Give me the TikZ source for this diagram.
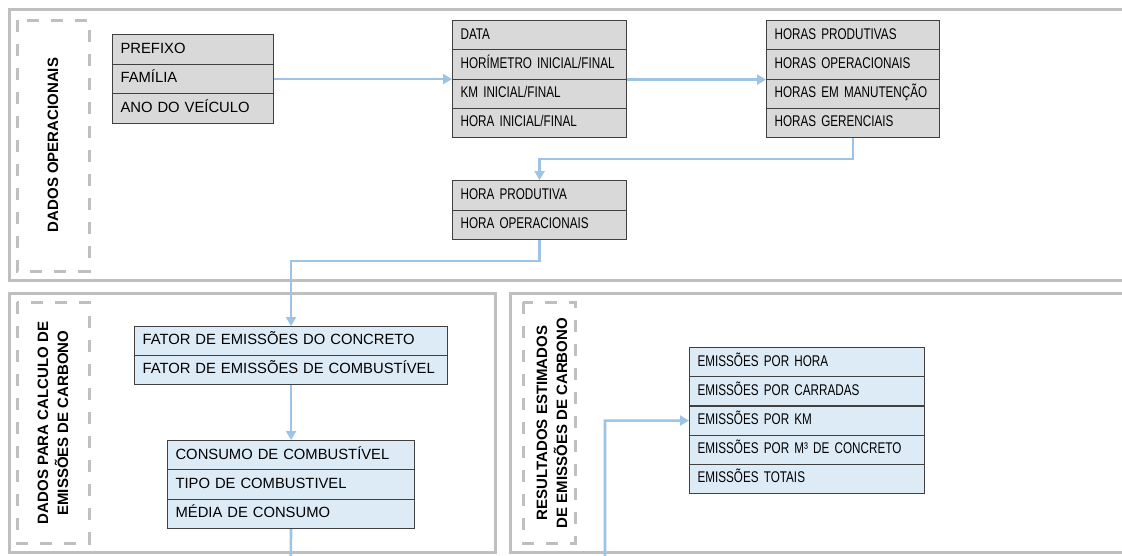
\documentclass[tikz,border=0pt]{standalone}
\usepackage{fontspec}
\setmainfont{Liberation Sans}
\newfontfamily\condfont[FakeStretch=0.755]{Liberation Sans}
\usetikzlibrary{arrows.meta}
\definecolor{cellgray}{HTML}{D9D9D9}
\definecolor{cellblue}{HTML}{DDEBF7}
\definecolor{cellline}{HTML}{404040}
\definecolor{panelgray}{HTML}{BFBFBF}
\definecolor{connblue}{HTML}{9DC3E6}
\tikzset{
  cell/.style={draw=cellline, line width=1.1pt, anchor=north west, inner xsep=8pt, inner ysep=0pt,
    text width=#1, align=left, text height=10.8pt, text depth=3pt},
  grayc/.style={cell=#1, fill=cellgray},
  bluec/.style={cell=#1, fill=cellblue},
  widef/.style={font=\fontsize{14.8}{18}\selectfont},
  narrowf/.style={font=\condfont\fontsize{15.5}{18}\selectfont},
  panel/.style={draw=panelgray, line width=3pt},
  dashbox/.style={draw=panelgray, line width=3pt, dash pattern=on 12pt off 12pt},
  conn/.style={draw=connblue, line width=2.6pt, -{Triangle[length=9pt,width=10pt]}},
  vlabel/.style={rotate=90, align=center, font=\bfseries\fontsize{15}{20}\selectfont}
}
\begin{document}
\begin{tikzpicture}[x=1pt,y=-1pt]
\useasboundingbox (0,0) rectangle (1122,555);
\clip (0,0) rectangle (1122,555);
\fill[white] (0,0) rectangle (1122,555);

% panels
\draw[panel] (9,9) rectangle (1135,280);
\draw[panel] (9,293) rectangle (495,552);
\draw[panel] (510,293) rectangle (1135,552);

% dashed label boxes
\draw[dashbox] (17,20) rectangle (89,271);
\draw[dashbox] (17,302) rectangle (89,543);
\draw[dashbox] (523,302) rectangle (575,543);

\node[vlabel] (L1) at (53,145) {DADOS OPERACIONAIS};
\node[vlabel] (L2) at (53,423) {DADOS PARA CALCULO DE\\EMISSÕES DE CARBONO};
\node[vlabel] (L3) at (552,423) {RESULTADOS ESTIMADOS\\DE EMISSÕES DE CARBONO};

% box A
\node[grayc=145pt, widef, minimum height=29.67pt] (A1) at (112,34) {PREFIXO};
\node[grayc=145pt, widef, minimum height=29.67pt] (A2) at (112,63.67) {FAMÍLIA};
\node[grayc=145pt, widef, minimum height=29.67pt] (A3) at (112,93.33) {ANO DO VEÍCULO};

% box B
\node[grayc=158pt, narrowf, minimum height=29.25pt] (B1) at (452,20) {DATA};
\node[grayc=158pt, narrowf, minimum height=29.25pt] (B2) at (452,49.25) {HORÍMETRO INICIAL/FINAL};
\node[grayc=158pt, narrowf, minimum height=29.25pt] (B3) at (452,78.5) {KM INICIAL/FINAL};
\node[grayc=158pt, narrowf, minimum height=29.25pt] (B4) at (452,107.75) {HORA INICIAL/FINAL};

% box C
\node[grayc=157pt, narrowf, minimum height=29.25pt] (C1) at (766,20) {HORAS PRODUTIVAS};
\node[grayc=157pt, narrowf, minimum height=29.25pt] (C2) at (766,49.25) {HORAS OPERACIONAIS};
\node[grayc=157pt, narrowf, minimum height=29.25pt] (C3) at (766,78.5) {HORAS EM MANUTENÇÃO};
\node[grayc=157pt, narrowf, minimum height=29.25pt] (C4) at (766,107.75) {HORAS GERENCIAIS};

% box D
\node[grayc=158pt, narrowf, minimum height=29.5pt] (D1) at (452,180) {HORA PRODUTIVA};
\node[grayc=158pt, narrowf, minimum height=29.5pt] (D2) at (452,209.5) {HORA OPERACIONAIS};

% box E
\node[bluec=297pt, widef, minimum height=29pt] (E1) at (134,326) {FATOR DE EMISSÕES DO CONCRETO};
\node[bluec=297pt, widef, minimum height=29pt] (E2) at (134,355) {FATOR DE EMISSÕES DE COMBUSTÍVEL};

% box F
\node[bluec=231pt, widef, minimum height=29.33pt] (F1) at (167,440) {CONSUMO DE COMBUSTÍVEL};
\node[bluec=231pt, widef, minimum height=29.33pt] (F2) at (167,469.33) {TIPO DE COMBUSTIVEL};
\node[bluec=231pt, widef, minimum height=29.33pt] (F3) at (167,498.67) {MÉDIA DE CONSUMO};

% box G
\node[bluec=219pt, narrowf, minimum height=29.2pt] (G1) at (689,347) {EMISSÕES POR HORA};
\node[bluec=219pt, narrowf, minimum height=29.2pt] (G2) at (689,376.2) {EMISSÕES POR CARRADAS};
\node[bluec=219pt, narrowf, minimum height=29.2pt] (G3) at (689,405.4) {EMISSÕES POR KM};
\node[bluec=219pt, narrowf, minimum height=29.2pt] (G4) at (689,434.6) {EMISSÕES POR M³ DE CONCRETO};
\node[bluec=219pt, narrowf, minimum height=29.2pt] (G5) at (689,463.8) {EMISSÕES TOTAIS};

% connectors
\draw[conn] (A2.east) -- (A2.east -| B1.west);
\draw[conn] (B2.south east) -- (C2.south west);
\draw[conn] (C4.south) -- ++(0,21) -| (D1.north);
\draw[conn] (D2.south) -- ++(0,21) -| (E1.north);
\draw[conn] (E2.south) -- (F1.north);
\coordinate (fg1) at (290.5,580);
\coordinate (fg2) at (605,580);
\draw[conn] (F3.south) -- (fg1) -- (fg2) |- (G3.west);
\end{tikzpicture}
\end{document}
